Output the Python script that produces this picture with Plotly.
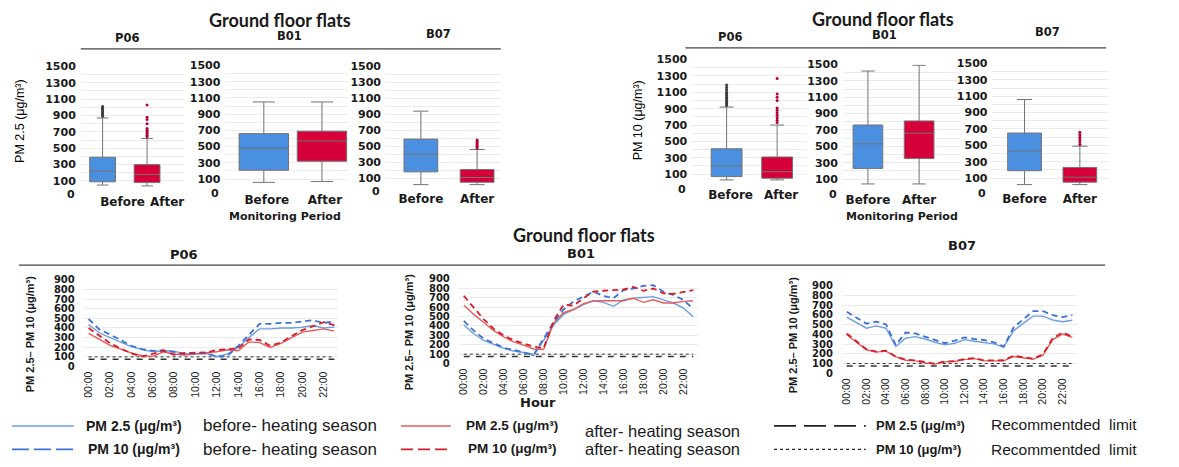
import plotly.graph_objects as go

W, H = 1179, 467

# ---------------- data ----------------
periods = ["Before", "After"]
sites = ["P06", "B01", "B07"]

box_tick_vals = [100, 300, 500, 700, 900, 1100, 1300, 1500]
box_grid_vals = list(range(0, 1600, 100))
box_zero_label = "0"

# PM2.5 box statistics per site: [Before, After]
pm25_lowerfence = [[50, 40], [60, 70], [20, 20]]
pm25_q1 = [[90, 80], [210, 320], [180, 50]]
pm25_median = [[220, 180], [480, 570], [400, 110]]
pm25_q3 = [[390, 300], [660, 690], [590, 210]]
pm25_upperfence = [[870, 620], [1050, 1050], [940, 460]]
pm25_outliers = [
    [[890, 910, 930, 950, 970, 990, 1010], [640, 660, 680, 700, 720, 740, 800, 850, 880, 1030]],
    [[], []],
    [[], [480, 500, 520, 540, 560, 580]],
]

# PM10 box statistics per site: [Before, After]
pm10_lowerfence = [[30, 30], [40, 40], [20, 20]]
pm10_q1 = [[70, 50], [230, 350], [190, 50]]
pm10_median = [[200, 130], [530, 660], [430, 110]]
pm10_q3 = [[410, 310], [760, 810], [650, 230]]
pm10_upperfence = [[920, 700], [1420, 1490], [1060, 490]]
pm10_outliers = [
    [[940, 960, 980, 1000, 1020, 1040, 1060, 1080, 1100, 1130, 1160, 1190],
     [730, 760, 790, 820, 850, 880, 910, 1000, 1040, 1080, 1270]],
    [[], [1530]],
    [[], [510, 540, 570, 600, 630, 660]],
]

hours = ["%02d:00" % h for h in range(24)]
hour_ticks = hours[::2]
line_tick_vals = list(range(0, 1000, 100))

p06_pm25_before = [435, 350, 300, 250, 207, 175, 153, 163, 160, 130, 135, 135, 105, 130, 197, 300, 390, 390, 400, 400, 408, 425, 400, 410]
p06_pm10_before = [493, 385, 333, 275, 215, 180, 163, 170, 153, 130, 135, 140, 100, 110, 215, 333, 442, 442, 452, 452, 463, 480, 452, 470]
p06_pm25_after = [343, 282, 220, 180, 140, 112, 105, 153, 130, 120, 130, 140, 153, 173, 163, 255, 248, 197, 240, 300, 357, 374, 390, 367]
p06_pm10_after = [400, 316, 241, 187, 136, 105, 130, 163, 120, 140, 146, 146, 170, 180, 187, 282, 275, 215, 248, 316, 377, 418, 459, 430]

b01_pm25_before = [409, 316, 247, 203, 162, 134, 117, 85, 250, 409, 522, 574, 625, 667, 650, 608, 677, 694, 704, 711, 677, 643, 591, 498]
b01_pm10_before = [454, 350, 265, 213, 168, 144, 120, 95, 265, 436, 574, 660, 711, 763, 718, 694, 780, 797, 825, 832, 763, 728, 677, 580]
b01_pm25_after = [619, 522, 436, 350, 282, 230, 196, 155, 150, 430, 540, 574, 636, 667, 667, 667, 667, 694, 650, 677, 643, 643, 660, 667]
b01_pm10_after = [718, 591, 470, 368, 299, 247, 213, 179, 162, 454, 625, 615, 694, 763, 773, 780, 787, 814, 773, 797, 746, 739, 763, 780]

b07_pm25_before = [577, 520, 463, 487, 463, 275, 360, 376, 352, 319, 292, 309, 346, 329, 319, 302, 268, 436, 513, 587, 587, 547, 530, 544]
b07_pm10_before = [631, 570, 510, 530, 503, 290, 419, 409, 376, 342, 309, 336, 369, 352, 342, 319, 275, 470, 554, 638, 638, 597, 577, 597]
b07_pm25_after = [396, 319, 242, 218, 228, 168, 134, 128, 107, 94, 117, 121, 141, 151, 128, 128, 128, 174, 161, 144, 185, 346, 403, 369]
b07_pm10_after = [409, 329, 248, 222, 232, 172, 140, 132, 112, 98, 122, 126, 146, 156, 133, 133, 134, 180, 165, 150, 195, 360, 419, 376]

pm25_limit = 75
pm10_limit = 100

# ---------------- style ----------------
BLUE_BOX = "#4a8fe0"
RED_BOX = "#d5003a"
BLUE_SOLID = "#6f9ee2"
BLUE_DASH = "#3d72d4"
RED_SOLID = "#e35d5d"
RED_DASH = "#d41f2a"
GRID = "#ebebeb"
TXT = "#1a1a1a"
BOLDF = "DejaVu Sans"
SANS = "Liberation Sans, Arial"
TITLEF = "Lato, Open Sans, Liberation Sans"


def dx(a, b):
    return [a / W, b / W]


def dy(top, bot):
    return [1 - bot / H, 1 - top / H]


fig = go.Figure()
layout = dict(
    width=W, height=H, margin=dict(l=0, r=0, t=0, b=0),
    paper_bgcolor="white", plot_bgcolor="white", showlegend=False,
    boxmode="overlay",
)

anns = []


def ann(text, x, y, size, family=BOLDF, bold=True, xanchor="center", angle=0, color=TXT):
    anns.append(dict(text=text, x=x / W, y=1 - y / H, xref="paper", yref="paper",
                     xanchor=xanchor, yanchor="middle", showarrow=False, textangle=angle,
                     font=dict(family=family, size=size, color=color,
                               weight="bold" if bold else "normal")))


# box panels: (x domain px, y domain px, x range, box width, category label shift, zero-label y px)
box_panels = [
    ((79, 182), (62, 188), [-0.49, 1.82], 0.58, 20, 193),
    ((224, 347), (61, 186), [-0.66, 1.45], 0.85, 3, 192),
    ((385, 500), (62, 185), [-0.62, 1.42], 0.60, 0, 190),
    ((692, 807), (55, 181), [-0.68, 1.59], 0.61, 4, 188),
    ((843, 960), (60, 186), [-0.49, 1.79], 0.58, 0, 193),
    ((993, 1110), (59, 185), [-0.58, 1.53], 0.61, 0, 192),
]

stats = [
    (pm25_lowerfence, pm25_q1, pm25_median, pm25_q3, pm25_upperfence, pm25_outliers),
    (pm10_lowerfence, pm10_q1, pm10_median, pm10_q3, pm10_upperfence, pm10_outliers),
]

ax = 0
for v, (lf, q1, med, q3, uf, outl) in enumerate(stats):
    for s in range(3):
        ax += 1
        (x0, x1), (y0, y1), xr, bw, shift, zy = box_panels[ax - 1]
        xa, ya = "x%d" % ax, "y%d" % ax
        for p, period in enumerate(periods):
            col = BLUE_BOX if p == 0 else RED_BOX
            fig.add_trace(go.Box(
                x=[period], q1=[q1[s][p]], median=[med[s][p]], q3=[q3[s][p]],
                lowerfence=[lf[s][p]], upperfence=[uf[s][p]],
                fillcolor=col, line=dict(color="#737373", width=1),
                width=bw, whiskerwidth=0.45, boxpoints=False,
                xaxis=xa, yaxis=ya, hoverinfo="y"))
            if outl[s][p]:
                fig.add_trace(go.Scatter(
                    x=[period] * len(outl[s][p]), y=outl[s][p], mode="markers",
                    marker=dict(size=3, color="#b0003a" if p else "#3a3a3a"),
                    cliponaxis=False, xaxis=xa, yaxis=ya))
        layout["xaxis%d" % ax] = dict(
            domain=dx(x0, x1), anchor=ya, type="category",
            categoryorder="array", categoryarray=periods, range=xr,
            showgrid=False, showline=False, zeroline=False, ticks="",
            tickfont=dict(family=BOLDF, size=12, color=TXT, weight="bold"),
            ticklabelstandoff=4, ticklabelshift=shift, fixedrange=True)
        layout["yaxis%d" % ax] = dict(
            domain=dy(y0, y1), anchor=xa, range=[0, 1500],
            tickmode="array", tickvals=box_tick_vals,
            showgrid=True, gridcolor=GRID, gridwidth=1, zeroline=False,
            showline=False, ticks="",
            minor=dict(tickmode="array", tickvals=box_grid_vals, showgrid=True,
                       gridcolor=GRID, ticks=""),
            tickfont=dict(family=BOLDF, size=11, color=TXT, weight="bold"),
            ticklabelstandoff=4, fixedrange=True)
        # the "0" label sits a little below the 100 label, as in the original figure
        ann(box_zero_label, x0 - 4, zy, 11, BOLDF, True, "right")

# line panels
line_panels = [
    ((82, 337), (281, 370), [-0.45, 23.35]),
    ((458, 698), (280, 367), [-0.5, 23.5]),
    ((842, 1078), (287, 377), [-0.5, 23.5]),
]
line_data = [
    (p06_pm25_before, p06_pm10_before, p06_pm25_after, p06_pm10_after),
    (b01_pm25_before, b01_pm10_before, b01_pm25_after, b01_pm10_after),
    (b07_pm25_before, b07_pm10_before, b07_pm25_after, b07_pm10_after),
]
for i, ((x0, x1), (y0, y1), xr) in enumerate(line_panels):
    ax = 7 + i
    xa, ya = "x%d" % ax, "y%d" % ax
    b25, b10, a25, a10 = line_data[i]
    fig.add_trace(go.Scatter(x=hours, y=[pm10_limit] * len(hours), mode="lines",
                             line=dict(color="#333333", width=1, dash="dot"), xaxis=xa, yaxis=ya))
    fig.add_trace(go.Scatter(x=hours, y=[pm25_limit] * len(hours), mode="lines",
                             line=dict(color="#333333", width=1.6, dash="6px,6px"), xaxis=xa, yaxis=ya))
    fig.add_trace(go.Scatter(x=hours, y=b25, mode="lines", line=dict(color=BLUE_SOLID, width=1.4), xaxis=xa, yaxis=ya))
    fig.add_trace(go.Scatter(x=hours, y=a25, mode="lines", line=dict(color=RED_SOLID, width=1.4), xaxis=xa, yaxis=ya))
    fig.add_trace(go.Scatter(x=hours, y=b10, mode="lines", line=dict(color=BLUE_DASH, width=1.8, dash="6px,4px"), xaxis=xa, yaxis=ya))
    fig.add_trace(go.Scatter(x=hours, y=a10, mode="lines", line=dict(color=RED_DASH, width=1.8, dash="6px,4px"), xaxis=xa, yaxis=ya))
    layout["xaxis%d" % ax] = dict(
        domain=dx(x0, x1), anchor=ya, type="category", range=xr,
        tickmode="array", tickvals=hour_ticks, ticktext=hour_ticks, tickangle=-90,
        showgrid=False, showline=False, zeroline=False, ticks="",
        tickfont=dict(family=SANS, size=10.5, color=TXT),
        ticklabelstandoff=2, fixedrange=True)
    layout["yaxis%d" % ax] = dict(
        domain=dy(y0, y1), anchor=xa, range=[0, 900],
        tickmode="array", tickvals=line_tick_vals,
        showgrid=True, gridcolor=GRID, zeroline=False, showline=False, ticks="",
        tickfont=dict(family=BOLDF, size=10, color=TXT, weight="bold"),
        ticklabelstandoff=8, fixedrange=True)

# ---------------- text ----------------
for (x, y) in [(279, 14), (883, 13), (583, 235)]:
    ann("Ground floor flats", x, y, 18, TITLEF)
for name, x, y in [("P06", 125, 33), ("B01", 288, 31), ("B07", 438, 29),
                   ("P06", 730, 32), ("B01", 885, 30), ("B07", 1048, 27)]:
    ann(name, x, y, 11.5)
for name, x, y in [("P06", 182, 255), ("B01", 580, 254), ("B07", 962, 246)]:
    ann(name, x, y, 13)
ann("Monitoring Period", 284, 216, 11)
ann("Monitoring Period", 902, 216, 11)
ann("PM 2.5 (μg/m³)", 18, 118, 12.5, SANS, False, angle=-90, color="#000000")
ann("PM 10 (μg/m³)", 638, 117, 12.5, SANS, False, angle=-90, color="#000000")
for (x, y) in [(28, 337), (408, 335), (793, 338)]:
    ann("PM 2.5– PM 10 (μg/m³)", x, y, 11, SANS, True, angle=-90)
ann("Hour", 537, 407, 13)

# legend text
ann("PM 2.5 (μg/m³)", 82, 431, 14, SANS, True, "left")
ann("PM 10 (μg/m³)", 84, 455, 14, SANS, True, "left")
ann("before- heating season", 200, 431, 17, SANS, False, "left")
ann("before- heating season", 200, 455, 17, SANS, False, "left")
ann("PM 2.5 (μg/m³)", 463, 431, 13.5, SANS, True, "left")
ann("PM 10 (μg/m³)", 465, 454, 13.5, SANS, True, "left")
ann("after- heating season", 582, 436, 16.5, SANS, False, "left")
ann("after- heating season", 582, 455, 16.5, SANS, False, "left")
ann("PM 2.5 (μg/m³)", 874, 431, 13, SANS, True, "left")
ann("PM 10 (μg/m³)", 874, 455, 13, SANS, True, "left")
ann("Recommentded  limit", 990, 430, 15.5, SANS, False, "left")
ann("Recommentded  limit", 990, 455, 15.5, SANS, False, "left")

layout["annotations"] = anns


def hline(x0, x1, y, color, width, dash="solid"):
    return dict(type="line", xref="paper", yref="paper", x0=x0 / W, x1=x1 / W,
                y0=1 - y / H, y1=1 - y / H, line=dict(color=color, width=width, dash=dash))


layout["shapes"] = [
    hline(79, 500, 44, "#444444", 1.3),
    hline(685, 1107, 43, "#444444", 1.3),
    hline(17, 1106, 266, "#444444", 1.3),
    hline(10, 72, 431, BLUE_SOLID, 1.4),
    hline(10, 72, 455, BLUE_DASH, 1.8, "17px,5px"),
    hline(400, 450, 431, RED_SOLID, 1.4),
    hline(400, 450, 455, RED_DASH, 1.8, "12px,5px"),
    hline(774, 866, 431, "#222222", 1.8, "22px,8px"),
    hline(774, 866, 455, "#222222", 1.2, "3px,3px"),
]

fig.update_layout(**layout)
fig.write_html("out.html", config={"displayModeBar": False},
               post_script="document.body.style.margin='0';document.body.style.padding='0';")
